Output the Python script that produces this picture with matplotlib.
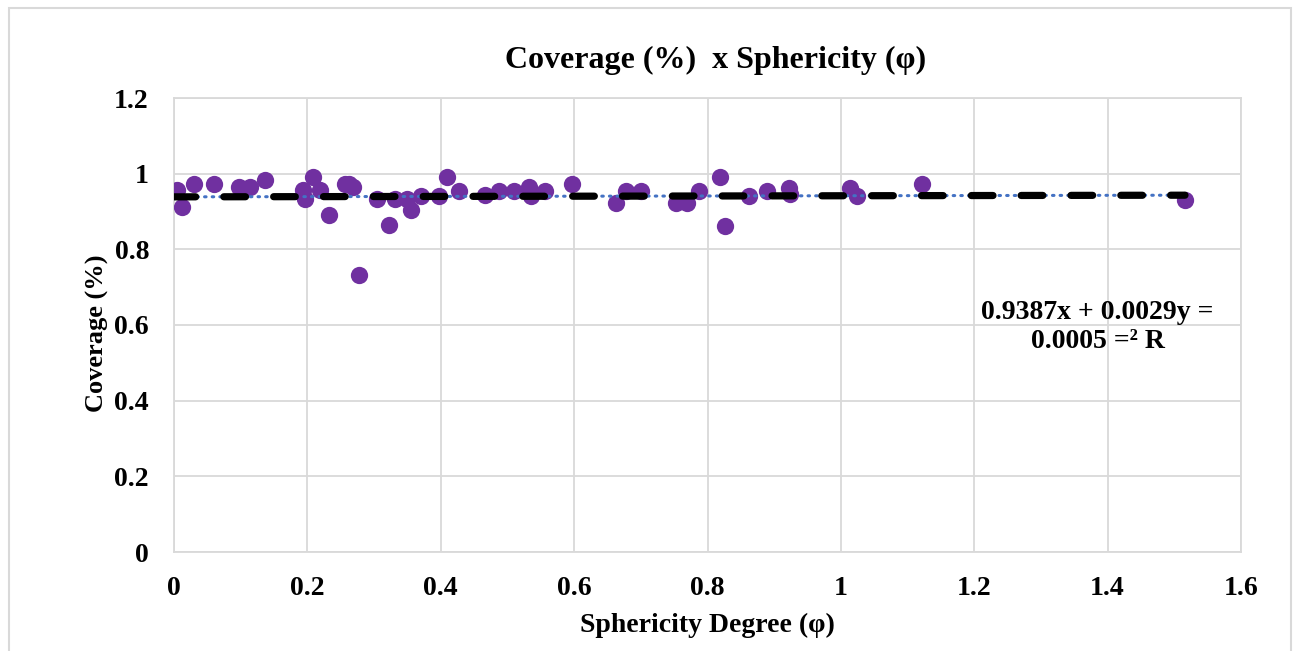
import matplotlib
matplotlib.use("Agg")
import matplotlib.pyplot as plt
from matplotlib.patches import Rectangle
import numpy as np

sphericity = [0.004, 0.012, 0.030, 0.060, 0.097, 0.114, 0.136, 0.193, 0.196, 0.208,
              0.219, 0.232, 0.256, 0.263, 0.268, 0.277, 0.305, 0.323, 0.331, 0.349,
              0.356, 0.371, 0.398, 0.409, 0.428, 0.467, 0.488, 0.510, 0.533, 0.536,
              0.557, 0.597, 0.663, 0.678, 0.701, 0.753, 0.769, 0.787, 0.819, 0.826,
              0.862, 0.889, 0.922, 0.924, 1.013, 1.024, 1.121, 1.516]
coverage = [0.957, 0.913, 0.973, 0.973, 0.966, 0.966, 0.983, 0.957, 0.932, 0.992,
            0.957, 0.892, 0.973, 0.973, 0.964, 0.733, 0.933, 0.863, 0.934, 0.934,
            0.905, 0.942, 0.942, 0.992, 0.955, 0.944, 0.955, 0.955, 0.966, 0.942,
            0.955, 0.973, 0.923, 0.955, 0.955, 0.923, 0.923, 0.955, 0.992, 0.862,
            0.942, 0.955, 0.963, 0.947, 0.963, 0.942, 0.973, 0.931]
trend_slope = 0.0029
trend_intercept = 0.9387
trend_range = [0.0, 1.516]
x_ticks = [0, 0.2, 0.4, 0.6, 0.8, 1, 1.2, 1.4, 1.6]
x_tick_labels = ["0", "0.2", "0.4", "0.6", "0.8", "1", "1.2", "1.4", "1.6"]
y_ticks = [0, 0.2, 0.4, 0.6, 0.8, 1, 1.2]
y_tick_labels = ["0", "0.2", "0.4", "0.6", "0.8", "1", "1.2"]
title = "Coverage (%)  x Sphericity (φ)"
x_label = "Sphericity Degree (φ)"
y_label = "Coverage (%)"
eq_text = "0.9387x + 0.0029y =\n0.0005 =² R"

plt.rcParams['font.family'] = ['Liberation Serif', 'DejaVu Serif']
plt.rcParams['font.weight'] = 'bold'

fig = plt.figure(figsize=(12.93, 6.51), dpi=100)
fig.patches.append(Rectangle((9/1293, -0.02), (1291-9)/1293, 1.02 - 8/651,
                             transform=fig.transFigure, fill=False,
                             edgecolor='#D9D9D9', lw=1.5))
ax = fig.add_axes([174/1293, (651-552)/651, (1241-174)/1293, (552-98)/651])

grid_c = '#D9D9D9'
ax.set_xlim(0, 1.6)
ax.set_ylim(0, 1.2)
ax.set_xticks(x_ticks)
ax.set_xticklabels(x_tick_labels)
ax.set_yticks(y_ticks)
ax.set_yticklabels(y_tick_labels)
ax.grid(True, color=grid_c, lw=1.3)
ax.set_axisbelow(True)
for s in ax.spines.values():
    s.set_color(grid_c)
    s.set_linewidth(1.3)
ax.tick_params(length=0, labelsize=20)
ax.tick_params(axis='x', pad=17)
ax.tick_params(axis='y', pad=18)

tx = np.array(trend_range)
ty = trend_slope * tx + trend_intercept
ax.scatter(sphericity, coverage, s=155, color='#7030A0', zorder=3, linewidths=0)
ax.plot(tx, ty, color='#4472C4', lw=2.2, linestyle=(0, (0.5, 2.0)),
        dash_capstyle='round', zorder=4)
ax.plot(tx, ty, color='black', lw=5.2, linestyle=(0, (3.0, 3.9)),
        dash_capstyle='round', zorder=5)

ax.text(1.385, 0.595, eq_text, ha='center', va='center', fontsize=20,
        fontweight='bold', linespacing=1.25)

fig.text(716/1293, 1 - 60/651, title, ha='center', va='center',
         fontsize=23, fontweight='bold')
ax.set_xlabel(x_label, fontsize=20, fontweight='bold')
ax.set_ylabel(y_label, fontsize=19, fontweight='bold')
ax.xaxis.set_label_coords(0.5, -0.161)
ax.yaxis.set_label_coords(-0.072, 0.482)
ax.xaxis.label.set_va('center')
ax.yaxis.label.set_va('center')

fig.savefig('out.png', dpi=100)
